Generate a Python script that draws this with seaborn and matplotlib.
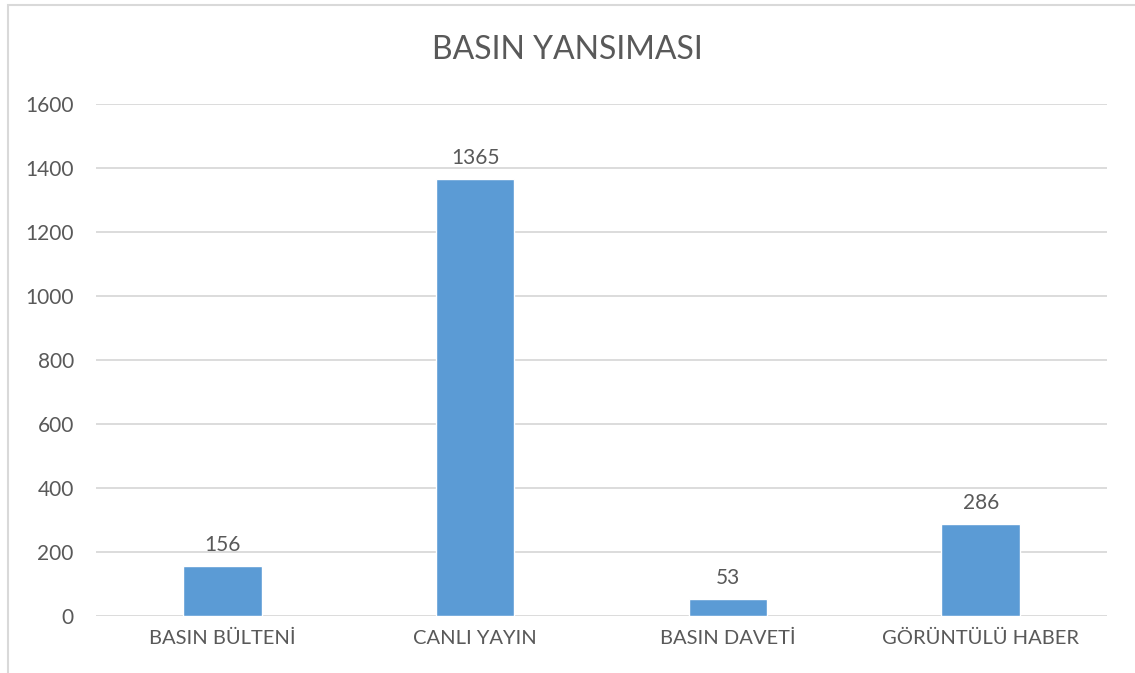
import matplotlib
matplotlib.use("Agg")
import matplotlib.pyplot as plt
import seaborn as sns
import pandas as pd
from matplotlib.patches import Rectangle

categories = ["BASIN BÜLTENİ", "CANLI YAYIN", "BASIN DAVETİ", "GÖRÜNTÜLÜ HABER"]
values = [156, 1365, 53, 286]
yticks = [0, 200, 400, 600, 800, 1000, 1200, 1400, 1600]
title = "BASIN YANSIMASI"

sns.set_theme(style="white")
plt.rcParams['font.family'] = ['Lato', 'DejaVu Sans']

text_color = "#595959"
grid_color = "#d9d9d9"
bar_color = "#5B9BD5"

df = pd.DataFrame({"cat": categories, "val": values})

fig = plt.figure(figsize=(11.35, 6.73), dpi=100)
ax = fig.add_axes([96/1135, 1-616/673, (1107-96)/1135, (616-104)/673])

sns.barplot(data=df, x="cat", y="val", color=bar_color, width=0.31, ax=ax, saturation=1)

ax.set_ylim(0, 1600)
ax.set_yticks(yticks)
ax.set_yticklabels([str(t) for t in yticks])
ax.yaxis.grid(True, color=grid_color, linewidth=1.3)
ax.set_axisbelow(True)
for s in ax.spines.values():
    s.set_visible(False)
ax.tick_params(axis="both", length=0, colors=text_color)
ax.tick_params(axis="y", pad=16, labelsize=15)
ax.tick_params(axis="x", pad=10, labelsize=14.5)
ax.set_xlabel("")
ax.set_ylabel("")

for c in ax.containers:
    ax.bar_label(c, labels=[str(v) for v in values], padding=8, fontsize=15, color=text_color)

fig.text(0.5, 1-50/673, title, ha="center", va="center", fontsize=23, color=text_color)

fig.patches.append(Rectangle((8/1135, -0.01), 1.0, 1-5/673+0.01, transform=fig.transFigure,
                             fill=False, edgecolor=grid_color, linewidth=1.5))

fig.savefig("out.png", dpi=100)
